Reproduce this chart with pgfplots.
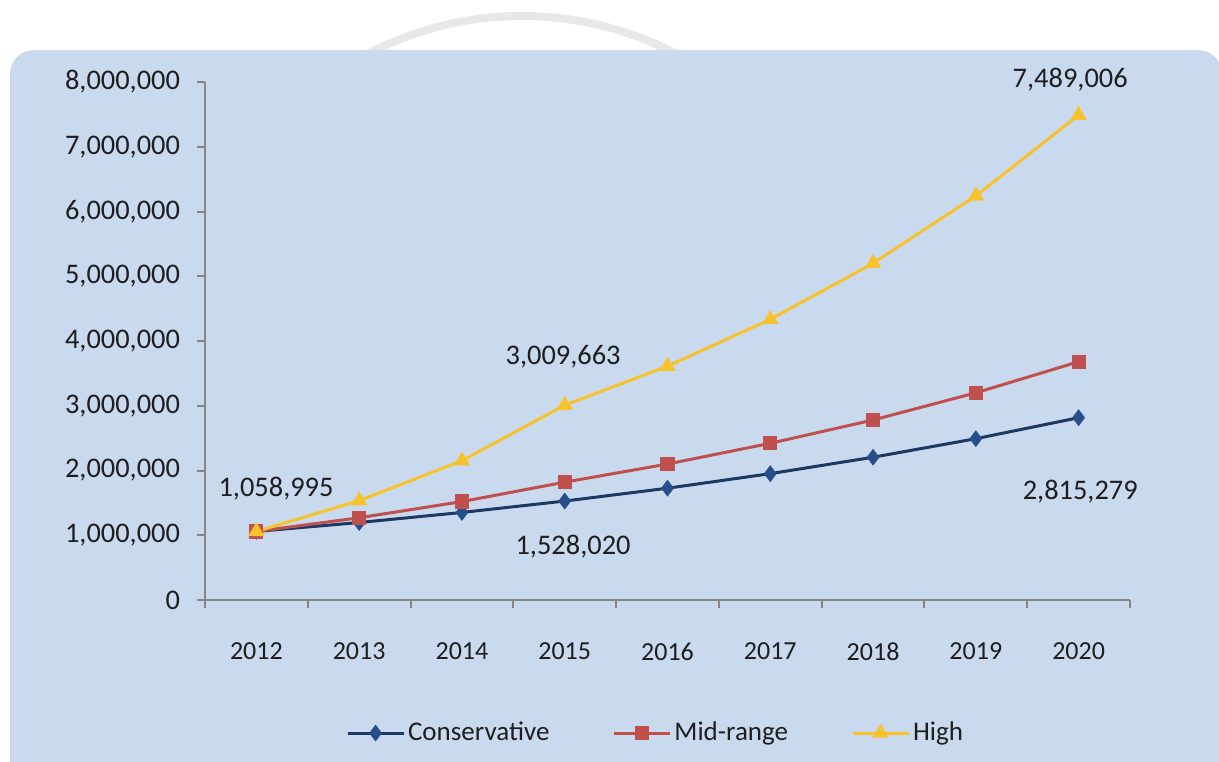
\documentclass[border=0pt]{standalone}
\usepackage{pgfplots}
\pgfplotsset{compat=1.18}
\usepackage{fontspec}
\setmainfont{Carlito}
\definecolor{panel}{RGB}{201,218,238}
\definecolor{axisgrey}{RGB}{134,134,134}
\definecolor{navy}{RGB}{30,56,100}
\definecolor{navymark}{RGB}{38,78,138}
\definecolor{redl}{RGB}{192,80,77}
\definecolor{yell}{RGB}{248,194,44}
\definecolor{txt}{RGB}{30,30,30}
\definecolor{arcgrey}{RGB}{232,232,232}
\begin{document}
\begin{tikzpicture}
\useasboundingbox (0,0) rectangle (609.5pt,380.5pt);
\fill[white] (0,0) rectangle (609.5pt,380.5pt);
\begin{scope}
\clip (0,354.5pt) rectangle (609.5pt,380.5pt);
\draw[arcgrey, line width=4pt] (261pt,207pt) circle (165.5pt);
\end{scope}
\fill[panel, rounded corners=12pt] (5pt,-20pt) rectangle (611pt,355.5pt);
\begin{axis}[
  at={(102.5pt,80.5pt)}, anchor=south west,
  scale only axis, width=462.5pt, height=259pt,
  xmin=-0.5, xmax=8.5, ymin=0, ymax=8000000,
  clip=false,
  axis x line=bottom, axis y line=left,
  axis line style={draw=axisgrey, line width=1pt, -},
  tick align=outside,
  xtick={0,1,2,3,4,5,6,7,8},
  xticklabels={2012,2013,2014,2015,2016,2017,2018,2019,2020},
  major x tick style={draw=none},
  minor xtick={-0.5,0.5,1.5,2.5,3.5,4.5,5.5,6.5,7.5,8.5},
  minor x tick style={draw=axisgrey, line width=1pt},
  minor tick length=4pt,
  ytick={0,1000000,2000000,3000000,4000000,5000000,6000000,7000000,8000000},
  major y tick style={draw=axisgrey, line width=1pt},
  major tick length=4pt,
  scaled y ticks=false,
  /pgf/number format/fixed,
  /pgf/number format/precision=0,
  /pgf/number format/1000 sep={,},
  /pgf/number format/assume math mode=true,
  xticklabel style={font=\fontsize{13}{15}\selectfont, text=txt, yshift=-14pt},
  yticklabel style={font=\fontsize{14.2}{16}\selectfont, text=txt, xshift=-5pt},
  legend style={at={(0.4876,-0.2568)}, anchor=center, draw=none, fill=none,
    font=\fontsize{13.5}{15}\selectfont, text=txt,
    /tikz/every even column/.append style={column sep=30pt},
    nodes={inner sep=1.5pt}},
  legend columns=3,
  legend image code/.code={\draw[mark repeat=2,mark phase=2] plot coordinates {(0pt,0pt) (14pt,0pt) (28pt,0pt)};},
]
\addplot[navy, line width=1.5pt, mark=diamond*, mark size=3pt, mark options={fill=navymark, draw=navymark}]
 coordinates {(0,1058995) (1,1196664) (2,1352230) (3,1528020) (4,1726663) (5,1951129) (6,2204776) (7,2491397) (8,2815279)};
\addlegendentry{Conservative}
\addplot[redl, line width=1.5pt, mark=square*, mark size=2.8pt, mark options={fill=redl, draw=redl}]
 coordinates {(0,1058995) (1,1270000) (2,1520000) (3,1820000) (4,2100000) (5,2420000) (6,2780000) (7,3200000) (8,3680000)};
\addlegendentry{Mid-range}
\addplot[yell, line width=1.5pt, mark=triangle*, mark size=3.2pt, mark options={fill=yell, draw=yell}]
 coordinates {(0,1058995) (1,1535000) (2,2150000) (3,3009663) (4,3611596) (5,4333915) (6,5200698) (7,6240838) (8,7489006)};
\addlegendentry{High}
\node[font=\fontsize{14.2}{16}\selectfont, text=txt] at (axis cs:0.191,1714000) {1,058,995};
\node[font=\fontsize{14.2}{16}\selectfont, text=txt] at (axis cs:2.984,3753000) {3,009,663};
\node[font=\fontsize{14.2}{16}\selectfont, text=txt] at (axis cs:3.081,819000) {1,528,020};
\node[font=\fontsize{14.2}{16}\selectfont, text=txt] at (axis cs:7.918,8030000) {7,489,006};
\node[font=\fontsize{14.2}{16}\selectfont, text=txt] at (axis cs:8.016,1668000) {2,815,279};
\end{axis}
\end{tikzpicture}
\end{document}
